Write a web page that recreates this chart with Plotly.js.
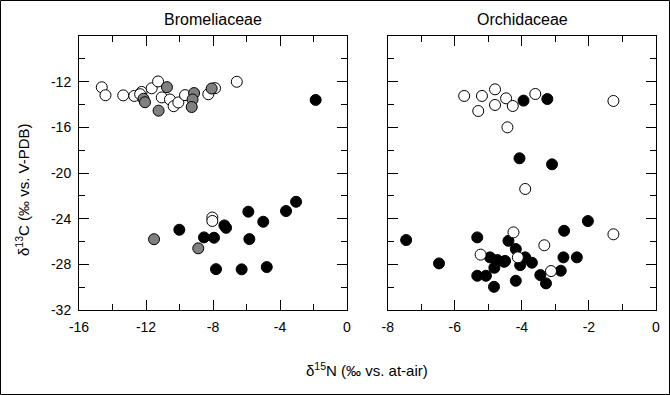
<!DOCTYPE html>
<html>
<head>
<meta charset="utf-8">
<script src="https://cdn.plot.ly/plotly-3.0.1.min.js"></script>
<style>html,body{margin:0;padding:0;background:#fff;}#chart{width:670px;height:395px;}</style>
</head>
<body>
<div id="chart"></div>
<script>
// Bromeliaceae (left panel)
const bromOpenX = [-14.64,-14.42,-13.36,-12.70,-12.26,-11.66,-11.28,-11.06,-10.57,-10.35,-10.07,-9.67,-8.28,-7.88,-6.58,-8.04,-8.04,-12.35];
const bromOpenY = [-12.49,-13.19,-13.20,-13.25,-12.90,-12.58,-11.98,-13.38,-13.56,-14.15,-13.82,-13.18,-13.10,-12.57,-12.01,-23.90,-24.20,-13.10];
const bromGrayX = [-12.15,-12.06,-10.75,-11.25,-9.13,-9.22,-9.27,-8.08,-11.52,-8.88];
const bromGrayY = [-13.50,-13.80,-12.48,-14.54,-13.00,-13.56,-14.22,-12.60,-25.80,-26.60];
const bromBlackX = [-1.87,-10.01,-8.54,-7.94,-7.32,-7.22,-5.89,-5.83,-5.00,-3.64,-3.04,-7.82,-6.29,-4.79];
const bromBlackY = [-13.60,-24.97,-25.64,-25.67,-24.59,-24.80,-23.39,-25.79,-24.27,-23.33,-22.52,-28.42,-28.44,-28.24];

// Orchidaceae (right panel)
const orchOpenX = [-5.72,-5.19,-4.80,-4.47,-5.30,-4.80,-4.27,-3.60,-1.27,-4.43,-3.90,-5.23,-4.12,-3.33,-3.13,-4.25,-1.27];
const orchOpenY = [-13.25,-13.25,-12.67,-13.46,-14.57,-14.04,-14.13,-13.08,-13.69,-16.00,-21.40,-27.15,-27.39,-26.33,-28.59,-25.20,-25.37];
const orchBlackX = [-3.95,-3.24,-4.07,-3.10,-7.45,-6.47,-5.33,-4.95,-4.73,-4.53,-4.82,-5.33,-5.07,-4.83,-4.40,-4.18,-3.90,-4.05,-3.70,-4.18,-3.45,-3.28,-2.84,-2.76,-2.36,-2.74,-2.03,-4.50];
const orchBlackY = [-13.66,-13.52,-18.71,-19.24,-25.87,-27.92,-25.64,-27.39,-27.63,-27.78,-28.30,-29.00,-29.00,-29.97,-25.94,-26.66,-27.39,-28.07,-27.86,-29.44,-28.94,-29.67,-28.56,-27.39,-27.39,-25.06,-24.21,-27.70];

// Tick labels
const yTickVals = [-32,-28,-24,-20,-16,-12];
const yTickText = ['-32','-28','-24','-20','-16','-12'];
const x1TickVals = [-16,-12,-8,-4,0];
const x1TickText = ['-16','-12','-8','-4','0'];
const x2TickVals = [-8,-6,-4,-2,0];
const x2TickText = ['-8','-6','-4','-2','0'];

const panelTitles = ['Bromeliaceae','Orchidaceae'];
const yTitle = 'δ<sup>13</sup>C (‰ vs. V-PDB)';
const xTitle = 'δ<sup>15</sup>N (‰ vs. at-air)';

const mk = (fill) => ({size: 11, color: fill, line: {color: '#000', width: 1}});
const traces = [
  {x: bromBlackX, y: bromBlackY, xaxis: 'x', yaxis: 'y', mode: 'markers', type: 'scatter', marker: mk('#000')},
  {x: bromOpenX, y: bromOpenY, xaxis: 'x', yaxis: 'y', mode: 'markers', type: 'scatter', marker: mk('#fff')},
  {x: bromGrayX, y: bromGrayY, xaxis: 'x', yaxis: 'y', mode: 'markers', type: 'scatter', marker: mk('#808080')},
  {x: orchBlackX, y: orchBlackY, xaxis: 'x2', yaxis: 'y2', mode: 'markers', type: 'scatter', marker: mk('#000')},
  {x: orchOpenX, y: orchOpenY, xaxis: 'x2', yaxis: 'y2', mode: 'markers', type: 'scatter', marker: mk('#fff')}
];

const fam = 'Liberation Sans, Arial, sans-serif';
const font = {family: fam, size: 14, color: '#000'};
const axBase = {
  showgrid: false, zeroline: false, showline: true, linecolor: '#000', linewidth: 1,
  mirror: 'ticks', ticks: 'inside', ticklen: 10, tickcolor: '#000', tickwidth: 1,
  tickfont: font, fixedrange: true, tickmode: 'array'
};
const minor = (d) => ({dtick: d, ticklen: 6, ticks: 'inside', tickcolor: '#000', showgrid: false, tickmode: 'linear', tick0: 0});
const yd = [1 - 310/395, 1 - 36/395];
const layout = {
  width: 670, height: 395,
  margin: {l: 0, r: 0, t: 0, b: 0},
  paper_bgcolor: '#fff', plot_bgcolor: '#fff',
  showlegend: false, font: font,
  xaxis: Object.assign({}, axBase, {domain: [79/670, 347/670], range: [-16, 0], tickvals: x1TickVals, ticktext: x1TickText,
    minor: minor(2), anchor: 'y', ticklabelstandoff: 4}),
  yaxis: Object.assign({}, axBase, {domain: yd, range: [-32, -8], tickvals: yTickVals, ticktext: yTickText,
    minor: minor(2), anchor: 'x', ticklabelstandoff: 4}),
  xaxis2: Object.assign({}, axBase, {domain: [387.7/670, 656/670], range: [-8, 0], tickvals: x2TickVals, ticktext: x2TickText,
    minor: minor(1), anchor: 'y2', ticklabelstandoff: 4}),
  yaxis2: Object.assign({}, axBase, {domain: yd, range: [-32, -8], tickvals: yTickVals, ticktext: yTickText, showticklabels: false,
    minor: minor(2), anchor: 'x2'}),
  annotations: [
    {text: panelTitles[0], xref: 'paper', yref: 'paper', x: 213/670, y: 1 - 19/395, showarrow: false, font: {family: fam, size: 16, color: '#000'}, xanchor: 'center', yanchor: 'middle'},
    {text: panelTitles[1], xref: 'paper', yref: 'paper', x: 522/670, y: 1 - 19/395, showarrow: false, font: {family: fam, size: 16, color: '#000'}, xanchor: 'center', yanchor: 'middle'},
    {text: yTitle, xref: 'paper', yref: 'paper', x: 22/670, y: 1 - 190/395, showarrow: false, textangle: -90, font: {family: fam, size: 15, color: '#000'}, xanchor: 'center', yanchor: 'middle'},
    {text: xTitle, xref: 'paper', yref: 'paper', x: 367/670, y: 1 - 369/395, showarrow: false, font: {family: fam, size: 15, color: '#000'}, xanchor: 'center', yanchor: 'middle'}
  ],
  shapes: [
    {type: 'rect', xref: 'paper', yref: 'paper', x0: 0.5/670, x1: 669.5/670, y0: 0.5/395, y1: 394.5/395, line: {color: '#000', width: 1}}
  ]
};
Plotly.newPlot('chart', traces, layout, {displayModeBar: false, staticPlot: true});
</script>
</body>
</html>
